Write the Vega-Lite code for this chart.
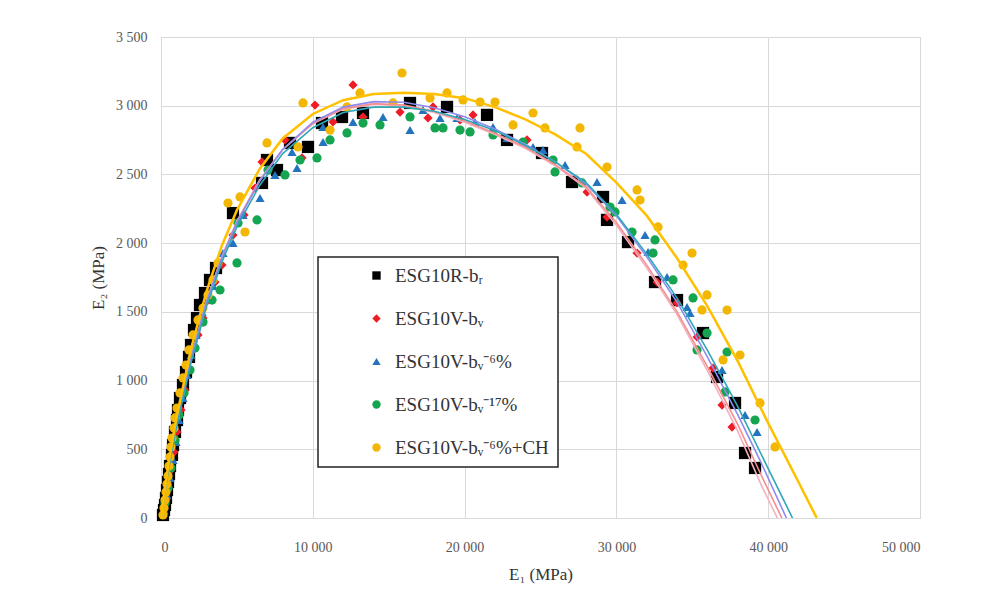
{
  "$schema": "https://vega.github.io/schema/vega-lite/v6.json",
  "width": 759,
  "height": 481,
  "autosize": {"type": "none"},
  "padding": {"left": 161, "top": 37, "right": 63, "bottom": 90},
  "background": "white",
  "config": {
    "view": {"stroke": "#d9d9d9", "strokeWidth": 1},
    "legend": {
      "orient": "none",
      "legendX": 157,
      "legendY": 220,
      "strokeColor": "#222222",
      "strokeWidth": 1.5,
      "fillColor": "white",
      "padding": 9,
      "rowPadding": 23,
      "symbolOffset": 40,
      "symbolSize": 70,
      "labelOffset": 9,
      "labelFont": "Liberation Serif",
      "labelFontSize": 19,
      "labelColor": "#333333",
      "labelLimit": 400,
      "symbolStrokeWidth": 0
    }
  },
  "datasets": {
    "pts": [
      {"s":"ESG10R-bᵣ","x":132,"y":22},{"s":"ESG10R-bᵣ","x":198,"y":58},{"s":"ESG10R-bᵣ","x":264,"y":95},{"s":"ESG10R-bᵣ","x":329,"y":146},{"s":"ESG10R-bᵣ","x":395,"y":204},{"s":"ESG10R-bᵣ","x":461,"y":262},{"s":"ESG10R-bᵣ","x":527,"y":320},{"s":"ESG10R-bᵣ","x":593,"y":378},{"s":"ESG10R-bᵣ","x":725,"y":459},{"s":"ESG10R-bᵣ","x":791,"y":531},{"s":"ESG10R-bᵣ","x":922,"y":626},{"s":"ESG10R-bᵣ","x":1054,"y":713},{"s":"ESG10R-bᵣ","x":1120,"y":786},{"s":"ESG10R-bᵣ","x":1252,"y":873},{"s":"ESG10R-bᵣ","x":1449,"y":968},{"s":"ESG10R-bᵣ","x":1647,"y":1062},{"s":"ESG10R-bᵣ","x":1845,"y":1172},{"s":"ESG10R-bᵣ","x":1976,"y":1259},{"s":"ESG10R-bᵣ","x":2174,"y":1368},{"s":"ESG10R-bᵣ","x":2372,"y":1455},{"s":"ESG10R-bᵣ","x":2569,"y":1550},{"s":"ESG10R-bᵣ","x":2899,"y":1637},{"s":"ESG10R-bᵣ","x":3228,"y":1732},{"s":"ESG10R-bᵣ","x":3623,"y":1819},{"s":"ESG10R-bᵣ","x":4743,"y":2219},{"s":"ESG10R-bᵣ","x":6654,"y":2438},{"s":"ESG10R-bᵣ","x":6983,"y":2605},{"s":"ESG10R-bᵣ","x":7642,"y":2532},{"s":"ESG10R-bᵣ","x":8499,"y":2729},{"s":"ESG10R-bᵣ","x":9684,"y":2700},{"s":"ESG10R-bᵣ","x":10607,"y":2874},{"s":"ESG10R-bᵣ","x":11924,"y":2918},{"s":"ESG10R-bᵣ","x":13307,"y":2947},{"s":"ESG10R-bᵣ","x":16404,"y":3020},{"s":"ESG10R-bᵣ","x":18842,"y":2991},{"s":"ESG10R-bᵣ","x":21477,"y":2933},{"s":"ESG10R-bᵣ","x":22794,"y":2751},{"s":"ESG10R-bᵣ","x":25100,"y":2656},{"s":"ESG10R-bᵣ","x":27077,"y":2445},{"s":"ESG10R-bᵣ","x":29119,"y":2336},{"s":"ESG10R-bᵣ","x":29382,"y":2169},{"s":"ESG10R-bᵣ","x":30765,"y":2008},{"s":"ESG10R-bᵣ","x":32544,"y":1717},{"s":"ESG10R-bᵣ","x":33994,"y":1586},{"s":"ESG10R-bᵣ","x":35707,"y":1346},{"s":"ESG10R-bᵣ","x":36629,"y":1026},{"s":"ESG10R-bᵣ","x":37815,"y":837},{"s":"ESG10R-bᵣ","x":38474,"y":473},{"s":"ESG10R-bᵣ","x":39133,"y":364},
      {"s":"ESG10V-bᵥ","x":329,"y":131},{"s":"ESG10V-bᵥ","x":461,"y":226},{"s":"ESG10V-bᵥ","x":659,"y":349},{"s":"ESG10V-bᵥ","x":856,"y":480},{"s":"ESG10V-bᵥ","x":1054,"y":626},{"s":"ESG10V-bᵥ","x":1318,"y":786},{"s":"ESG10V-bᵥ","x":1581,"y":931},{"s":"ESG10V-bᵥ","x":1845,"y":1077},{"s":"ESG10V-bᵥ","x":2108,"y":1223},{"s":"ESG10V-bᵥ","x":2438,"y":1332},{"s":"ESG10V-bᵥ","x":2767,"y":1455},{"s":"ESG10V-bᵥ","x":3096,"y":1586},{"s":"ESG10V-bᵥ","x":3558,"y":1717},{"s":"ESG10V-bᵥ","x":4019,"y":1841},{"s":"ESG10V-bᵥ","x":4743,"y":2059},{"s":"ESG10V-bᵥ","x":5468,"y":2205},{"s":"ESG10V-bᵥ","x":6193,"y":2401},{"s":"ESG10V-bᵥ","x":6654,"y":2591},{"s":"ESG10V-bᵥ","x":8169,"y":2751},{"s":"ESG10V-bᵥ","x":9289,"y":2620},{"s":"ESG10V-bᵥ","x":10146,"y":3005},{"s":"ESG10V-bᵥ","x":11331,"y":2882},{"s":"ESG10V-bᵥ","x":12649,"y":3151},{"s":"ESG10V-bᵥ","x":13308,"y":2918},{"s":"ESG10V-bᵥ","x":15745,"y":2954},{"s":"ESG10V-bᵥ","x":17590,"y":2911},{"s":"ESG10V-bᵥ","x":17919,"y":2991},{"s":"ESG10V-bᵥ","x":19698,"y":2896},{"s":"ESG10V-bᵥ","x":20555,"y":2933},{"s":"ESG10V-bᵥ","x":24112,"y":2751},{"s":"ESG10V-bᵥ","x":28065,"y":2372},{"s":"ESG10V-bᵥ","x":29382,"y":2190},{"s":"ESG10V-bᵥ","x":31359,"y":1928},{"s":"ESG10V-bᵥ","x":32676,"y":1717},{"s":"ESG10V-bᵥ","x":33994,"y":1565},{"s":"ESG10V-bᵥ","x":35311,"y":1317},{"s":"ESG10V-bᵥ","x":36365,"y":1091},{"s":"ESG10V-bᵥ","x":36958,"y":822},{"s":"ESG10V-bᵥ","x":37617,"y":662},
      {"s":"ESG10V-bᵥ⁻⁶%","x":198,"y":58},{"s":"ESG10V-bᵥ⁻⁶%","x":395,"y":167},{"s":"ESG10V-bᵥ⁻⁶%","x":593,"y":291},{"s":"ESG10V-bᵥ⁻⁶%","x":791,"y":422},{"s":"ESG10V-bᵥ⁻⁶%","x":988,"y":553},{"s":"ESG10V-bᵥ⁻⁶%","x":1186,"y":713},{"s":"ESG10V-bᵥ⁻⁶%","x":1449,"y":873},{"s":"ESG10V-bᵥ⁻⁶%","x":1713,"y":1041},{"s":"ESG10V-bᵥ⁻⁶%","x":1976,"y":1186},{"s":"ESG10V-bᵥ⁻⁶%","x":2306,"y":1332},{"s":"ESG10V-bᵥ⁻⁶%","x":2701,"y":1499},{"s":"ESG10V-bᵥ⁻⁶%","x":3030,"y":1601},{"s":"ESG10V-bᵥ⁻⁶%","x":3426,"y":1688},{"s":"ESG10V-bᵥ⁻⁶%","x":4085,"y":1928},{"s":"ESG10V-bᵥ⁻⁶%","x":4743,"y":2001},{"s":"ESG10V-bᵥ⁻⁶%","x":5402,"y":2205},{"s":"ESG10V-bᵥ⁻⁶%","x":6522,"y":2329},{"s":"ESG10V-bᵥ⁻⁶%","x":7510,"y":2496},{"s":"ESG10V-bᵥ⁻⁶%","x":8630,"y":2663},{"s":"ESG10V-bᵥ⁻⁶%","x":8960,"y":2547},{"s":"ESG10V-bᵥ⁻⁶%","x":10673,"y":2845},{"s":"ESG10V-bᵥ⁻⁶%","x":10673,"y":2736},{"s":"ESG10V-bᵥ⁻⁶%","x":12649,"y":2882},{"s":"ESG10V-bᵥ⁻⁶%","x":14625,"y":2918},{"s":"ESG10V-bᵥ⁻⁶%","x":16404,"y":2824},{"s":"ESG10V-bᵥ⁻⁶%","x":17261,"y":2969},{"s":"ESG10V-bᵥ⁻⁶%","x":18381,"y":2911},{"s":"ESG10V-bᵥ⁻⁶%","x":19500,"y":2911},{"s":"ESG10V-bᵥ⁻⁶%","x":20686,"y":2882},{"s":"ESG10V-bᵥ⁻⁶%","x":21872,"y":2845},{"s":"ESG10V-bᵥ⁻⁶%","x":22794,"y":2765},{"s":"ESG10V-bᵥ⁻⁶%","x":24507,"y":2700},{"s":"ESG10V-bᵥ⁻⁶%","x":25166,"y":2678},{"s":"ESG10V-bᵥ⁻⁶%","x":26616,"y":2569},{"s":"ESG10V-bᵥ⁻⁶%","x":28724,"y":2445},{"s":"ESG10V-bᵥ⁻⁶%","x":30371,"y":2314},{"s":"ESG10V-bᵥ⁻⁶%","x":31886,"y":2059},{"s":"ESG10V-bᵥ⁻⁶%","x":32084,"y":1936},{"s":"ESG10V-bᵥ⁻⁶%","x":33335,"y":1754},{"s":"ESG10V-bᵥ⁻⁶%","x":34653,"y":1535},{"s":"ESG10V-bᵥ⁻⁶%","x":34851,"y":1492},{"s":"ESG10V-bᵥ⁻⁶%","x":36958,"y":1077},{"s":"ESG10V-bᵥ⁻⁶%","x":38474,"y":750},{"s":"ESG10V-bᵥ⁻⁶%","x":39265,"y":626},
      {"s":"ESG10V-bᵥ⁻¹⁷%","x":264,"y":109},{"s":"ESG10V-bᵥ⁻¹⁷%","x":461,"y":218},{"s":"ESG10V-bᵥ⁻¹⁷%","x":659,"y":364},{"s":"ESG10V-bᵥ⁻¹⁷%","x":922,"y":568},{"s":"ESG10V-bᵥ⁻¹⁷%","x":1186,"y":750},{"s":"ESG10V-bᵥ⁻¹⁷%","x":1515,"y":910},{"s":"ESG10V-bᵥ⁻¹⁷%","x":1911,"y":1077},{"s":"ESG10V-bᵥ⁻¹⁷%","x":2240,"y":1237},{"s":"ESG10V-bᵥ⁻¹⁷%","x":2767,"y":1426},{"s":"ESG10V-bᵥ⁻¹⁷%","x":3360,"y":1586},{"s":"ESG10V-bᵥ⁻¹⁷%","x":3887,"y":1659},{"s":"ESG10V-bᵥ⁻¹⁷%","x":5007,"y":1856},{"s":"ESG10V-bᵥ⁻¹⁷%","x":5073,"y":2147},{"s":"ESG10V-bᵥ⁻¹⁷%","x":6325,"y":2169},{"s":"ESG10V-bᵥ⁻¹⁷%","x":7049,"y":2532},{"s":"ESG10V-bᵥ⁻¹⁷%","x":8169,"y":2496},{"s":"ESG10V-bᵥ⁻¹⁷%","x":9157,"y":2605},{"s":"ESG10V-bᵥ⁻¹⁷%","x":10277,"y":2620},{"s":"ESG10V-bᵥ⁻¹⁷%","x":11134,"y":2751},{"s":"ESG10V-bᵥ⁻¹⁷%","x":12254,"y":2802},{"s":"ESG10V-bᵥ⁻¹⁷%","x":13308,"y":2874},{"s":"ESG10V-bᵥ⁻¹⁷%","x":14428,"y":2860},{"s":"ESG10V-bᵥ⁻¹⁷%","x":16404,"y":2918},{"s":"ESG10V-bᵥ⁻¹⁷%","x":18051,"y":2838},{"s":"ESG10V-bᵥ⁻¹⁷%","x":18578,"y":2838},{"s":"ESG10V-bᵥ⁻¹⁷%","x":19698,"y":2823},{"s":"ESG10V-bᵥ⁻¹⁷%","x":20357,"y":2809},{"s":"ESG10V-bᵥ⁻¹⁷%","x":21872,"y":2787},{"s":"ESG10V-bᵥ⁻¹⁷%","x":23849,"y":2736},{"s":"ESG10V-bᵥ⁻¹⁷%","x":25825,"y":2605},{"s":"ESG10V-bᵥ⁻¹⁷%","x":25957,"y":2518},{"s":"ESG10V-bᵥ⁻¹⁷%","x":27735,"y":2438},{"s":"ESG10V-bᵥ⁻¹⁷%","x":29580,"y":2263},{"s":"ESG10V-bᵥ⁻¹⁷%","x":29910,"y":2227},{"s":"ESG10V-bᵥ⁻¹⁷%","x":31030,"y":2081},{"s":"ESG10V-bᵥ⁻¹⁷%","x":32544,"y":2023},{"s":"ESG10V-bᵥ⁻¹⁷%","x":32413,"y":1928},{"s":"ESG10V-bᵥ⁻¹⁷%","x":33730,"y":1732},{"s":"ESG10V-bᵥ⁻¹⁷%","x":35048,"y":1601},{"s":"ESG10V-bᵥ⁻¹⁷%","x":35970,"y":1346},{"s":"ESG10V-bᵥ⁻¹⁷%","x":35311,"y":1223},{"s":"ESG10V-bᵥ⁻¹⁷%","x":37289,"y":1208},{"s":"ESG10V-bᵥ⁻¹⁷%","x":37157,"y":917},{"s":"ESG10V-bᵥ⁻¹⁷%","x":39133,"y":713},
      {"s":"ESG10V-bᵥ⁻⁶%+CH","x":132,"y":22},{"s":"ESG10V-bᵥ⁻⁶%+CH","x":198,"y":73},{"s":"ESG10V-bᵥ⁻⁶%+CH","x":264,"y":131},{"s":"ESG10V-bᵥ⁻⁶%+CH","x":329,"y":189},{"s":"ESG10V-bᵥ⁻⁶%+CH","x":395,"y":247},{"s":"ESG10V-bᵥ⁻⁶%+CH","x":461,"y":306},{"s":"ESG10V-bᵥ⁻⁶%+CH","x":527,"y":378},{"s":"ESG10V-bᵥ⁻⁶%+CH","x":593,"y":444},{"s":"ESG10V-bᵥ⁻⁶%+CH","x":659,"y":517},{"s":"ESG10V-bᵥ⁻⁶%+CH","x":725,"y":582},{"s":"ESG10V-bᵥ⁻⁶%+CH","x":856,"y":655},{"s":"ESG10V-bᵥ⁻⁶%+CH","x":922,"y":728},{"s":"ESG10V-bᵥ⁻⁶%+CH","x":1054,"y":800},{"s":"ESG10V-bᵥ⁻⁶%+CH","x":1252,"y":910},{"s":"ESG10V-bᵥ⁻⁶%+CH","x":1449,"y":1019},{"s":"ESG10V-bᵥ⁻⁶%+CH","x":1647,"y":1113},{"s":"ESG10V-bᵥ⁻⁶%+CH","x":1845,"y":1223},{"s":"ESG10V-bᵥ⁻⁶%+CH","x":2108,"y":1332},{"s":"ESG10V-bᵥ⁻⁶%+CH","x":2438,"y":1441},{"s":"ESG10V-bᵥ⁻⁶%+CH","x":2767,"y":1528},{"s":"ESG10V-bᵥ⁻⁶%+CH","x":3096,"y":1623},{"s":"ESG10V-bᵥ⁻⁶%+CH","x":3426,"y":1732},{"s":"ESG10V-bᵥ⁻⁶%+CH","x":3755,"y":1856},{"s":"ESG10V-bᵥ⁻⁶%+CH","x":4414,"y":2292},{"s":"ESG10V-bᵥ⁻⁶%+CH","x":5205,"y":2336},{"s":"ESG10V-bᵥ⁻⁶%+CH","x":5534,"y":2081},{"s":"ESG10V-bᵥ⁻⁶%+CH","x":6983,"y":2729},{"s":"ESG10V-bᵥ⁻⁶%+CH","x":9026,"y":2700},{"s":"ESG10V-bᵥ⁻⁶%+CH","x":9355,"y":3020},{"s":"ESG10V-bᵥ⁻⁶%+CH","x":11134,"y":2823},{"s":"ESG10V-bᵥ⁻⁶%+CH","x":12254,"y":2991},{"s":"ESG10V-bᵥ⁻⁶%+CH","x":13110,"y":3093},{"s":"ESG10V-bᵥ⁻⁶%+CH","x":15284,"y":3020},{"s":"ESG10V-bᵥ⁻⁶%+CH","x":15877,"y":3238},{"s":"ESG10V-bᵥ⁻⁶%+CH","x":17722,"y":3056},{"s":"ESG10V-bᵥ⁻⁶%+CH","x":18842,"y":3093},{"s":"ESG10V-bᵥ⁻⁶%+CH","x":19896,"y":3042},{"s":"ESG10V-bᵥ⁻⁶%+CH","x":21016,"y":3027},{"s":"ESG10V-bᵥ⁻⁶%+CH","x":22004,"y":3027},{"s":"ESG10V-bᵥ⁻⁶%+CH","x":23190,"y":2860},{"s":"ESG10V-bᵥ⁻⁶%+CH","x":24507,"y":2947},{"s":"ESG10V-bᵥ⁻⁶%+CH","x":25298,"y":2838},{"s":"ESG10V-bᵥ⁻⁶%+CH","x":27406,"y":2700},{"s":"ESG10V-bᵥ⁻⁶%+CH","x":27604,"y":2838},{"s":"ESG10V-bᵥ⁻⁶%+CH","x":29382,"y":2554},{"s":"ESG10V-bᵥ⁻⁶%+CH","x":31359,"y":2387},{"s":"ESG10V-bᵥ⁻⁶%+CH","x":31557,"y":2314},{"s":"ESG10V-bᵥ⁻⁶%+CH","x":32742,"y":2118},{"s":"ESG10V-bᵥ⁻⁶%+CH","x":34390,"y":1841},{"s":"ESG10V-bᵥ⁻⁶%+CH","x":34982,"y":1928},{"s":"ESG10V-bᵥ⁻⁶%+CH","x":35641,"y":1514},{"s":"ESG10V-bᵥ⁻⁶%+CH","x":35970,"y":1623},{"s":"ESG10V-bᵥ⁻⁶%+CH","x":37289,"y":1513},{"s":"ESG10V-bᵥ⁻⁶%+CH","x":37025,"y":1150},{"s":"ESG10V-bᵥ⁻⁶%+CH","x":38144,"y":1186},{"s":"ESG10V-bᵥ⁻⁶%+CH","x":39462,"y":837},{"s":"ESG10V-bᵥ⁻⁶%+CH","x":40451,"y":517}
    ],
    "crv": [
      {"c":"k","x":0,"y":0},{"c":"k","x":500,"y":380},{"c":"k","x":1000,"y":680},{"c":"k","x":2000,"y":1180},{"c":"k","x":3000,"y":1580},{"c":"k","x":4000,"y":1900},{"c":"k","x":5000,"y":2160},{"c":"k","x":6500,"y":2460},{"c":"k","x":8000,"y":2680},{"c":"k","x":10000,"y":2870},{"c":"k","x":12000,"y":2975},{"c":"k","x":14000,"y":3010},{"c":"k","x":16000,"y":3000},{"c":"k","x":18000,"y":2950},{"c":"k","x":20000,"y":2880},{"c":"k","x":22000,"y":2790},{"c":"k","x":24000,"y":2690},{"c":"k","x":26000,"y":2560},{"c":"k","x":28000,"y":2400},{"c":"k","x":30000,"y":2130},{"c":"k","x":32000,"y":1820},{"c":"k","x":34000,"y":1480},{"c":"k","x":36000,"y":1070},{"c":"k","x":38000,"y":630},{"c":"k","x":39500,"y":250},{"c":"k","x":40600,"y":0},
      {"c":"r","x":0,"y":0},{"c":"r","x":500,"y":375},{"c":"r","x":1000,"y":675},{"c":"r","x":2000,"y":1175},{"c":"r","x":3000,"y":1575},{"c":"r","x":4000,"y":1895},{"c":"r","x":5000,"y":2155},{"c":"r","x":6500,"y":2455},{"c":"r","x":8000,"y":2680},{"c":"r","x":10000,"y":2870},{"c":"r","x":12000,"y":2980},{"c":"r","x":14000,"y":3015},{"c":"r","x":16000,"y":3005},{"c":"r","x":18000,"y":2960},{"c":"r","x":20000,"y":2890},{"c":"r","x":22000,"y":2800},{"c":"r","x":24000,"y":2700},{"c":"r","x":26000,"y":2570},{"c":"r","x":28000,"y":2410},{"c":"r","x":30000,"y":2150},{"c":"r","x":32000,"y":1840},{"c":"r","x":34000,"y":1500},{"c":"r","x":36000,"y":1100},{"c":"r","x":38000,"y":680},{"c":"r","x":39500,"y":320},{"c":"r","x":40900,"y":0},
      {"c":"b","x":0,"y":0},{"c":"b","x":500,"y":370},{"c":"b","x":1000,"y":670},{"c":"b","x":2000,"y":1170},{"c":"b","x":3000,"y":1570},{"c":"b","x":4000,"y":1890},{"c":"b","x":5000,"y":2150},{"c":"b","x":6500,"y":2450},{"c":"b","x":8000,"y":2680},{"c":"b","x":10000,"y":2880},{"c":"b","x":12000,"y":2990},{"c":"b","x":14000,"y":3030},{"c":"b","x":16000,"y":3025},{"c":"b","x":18000,"y":2985},{"c":"b","x":20000,"y":2920},{"c":"b","x":22000,"y":2830},{"c":"b","x":24000,"y":2720},{"c":"b","x":26000,"y":2590},{"c":"b","x":28000,"y":2430},{"c":"b","x":30000,"y":2200},{"c":"b","x":32000,"y":1900},{"c":"b","x":34000,"y":1570},{"c":"b","x":36000,"y":1170},{"c":"b","x":38000,"y":750},{"c":"b","x":39500,"y":410},{"c":"b","x":41200,"y":0},
      {"c":"g","x":0,"y":0},{"c":"g","x":500,"y":360},{"c":"g","x":1000,"y":650},{"c":"g","x":2000,"y":1140},{"c":"g","x":3000,"y":1540},{"c":"g","x":4000,"y":1860},{"c":"g","x":5000,"y":2120},{"c":"g","x":6500,"y":2420},{"c":"g","x":8000,"y":2650},{"c":"g","x":10000,"y":2840},{"c":"g","x":12000,"y":2950},{"c":"g","x":14000,"y":2990},{"c":"g","x":16000,"y":2990},{"c":"g","x":18000,"y":2960},{"c":"g","x":20000,"y":2900},{"c":"g","x":22000,"y":2820},{"c":"g","x":24000,"y":2710},{"c":"g","x":26000,"y":2590},{"c":"g","x":28000,"y":2440},{"c":"g","x":30000,"y":2210},{"c":"g","x":32000,"y":1920},{"c":"g","x":34000,"y":1600},{"c":"g","x":36000,"y":1220},{"c":"g","x":38000,"y":810},{"c":"g","x":40000,"y":360},{"c":"g","x":41600,"y":0}
    ],
    "ycrv": [
      {"x":0,"y":0},{"x":500,"y":400},{"x":1000,"y":720},{"x":2000,"y":1240},{"x":3000,"y":1650},{"x":4000,"y":1980},{"x":5000,"y":2240},{"x":6500,"y":2540},{"x":8000,"y":2760},{"x":10000,"y":2940},{"x":12000,"y":3040},{"x":14000,"y":3085},{"x":16000,"y":3095},{"x":18000,"y":3085},{"x":20000,"y":3055},{"x":22000,"y":2990},{"x":24000,"y":2900},{"x":26000,"y":2790},{"x":28000,"y":2650},{"x":30000,"y":2440},{"x":32000,"y":2200},{"x":34000,"y":1890},{"x":36000,"y":1540},{"x":38000,"y":1140},{"x":40000,"y":690},{"x":42000,"y":260},{"x":43200,"y":0}
    ]
  },
  "encoding": {
    "x": {
      "field": "x", "type": "quantitative",
      "scale": {"domain": [0, 50000], "nice": false},
      "axis": {
        "values": [0, 10000, 20000, 30000, 40000, 50000],
        "labelExpr": "replace(format(datum.value, ',d'), ',', ' ')",
        "title": "E₁ (MPa)",
        "grid": true, "gridColor": "#d9d9d9",
        "domainColor": "#d9d9d9", "ticks": false,
        "labelPadding": 22, "labelFont": "Liberation Sans Narrow", "labelFontSize": 14, "labelColor": "#595959",
        "titleFont": "Liberation Serif", "titleFontSize": 17, "titleFontWeight": "normal", "titleColor": "#333333", "titlePadding": 12
      }
    },
    "y": {
      "field": "y", "type": "quantitative",
      "scale": {"domain": [0, 3500], "nice": false},
      "axis": {
        "values": [0, 500, 1000, 1500, 2000, 2500, 3000, 3500],
        "labelExpr": "replace(format(datum.value, ',d'), ',', ' ')",
        "title": "E₂ (MPa)",
        "grid": true, "gridColor": "#d9d9d9",
        "domainColor": "#d9d9d9", "ticks": false,
        "labelPadding": 14, "labelFont": "Liberation Sans Narrow", "labelFontSize": 14, "labelColor": "#595959",
        "titleFont": "Liberation Serif", "titleFontSize": 17, "titleFontWeight": "normal", "titleColor": "#333333", "titlePadding": 8
      }
    }
  },
  "layer": [
    {
      "data": {"name": "pts"},
      "transform": [{"filter": "datum.s == 'ESG10R-bᵣ'"}],
      "mark": {"type": "point", "filled": true, "opacity": 1, "strokeWidth": 0, "size": 150},
      "encoding": {
        "color": {"field": "s", "type": "nominal", "title": null, "sort": null,
          "scale": {"domain": ["ESG10R-bᵣ","ESG10V-bᵥ","ESG10V-bᵥ⁻⁶%","ESG10V-bᵥ⁻¹⁷%","ESG10V-bᵥ⁻⁶%+CH"], "range": ["#000000","#ee1c25","#2373be","#15a550","#f2b705"]}},
        "shape": {"field": "s", "type": "nominal", "title": null, "sort": null,
          "scale": {"domain": ["ESG10R-bᵣ","ESG10V-bᵥ","ESG10V-bᵥ⁻⁶%","ESG10V-bᵥ⁻¹⁷%","ESG10V-bᵥ⁻⁶%+CH"], "range": ["square","diamond","triangle-up","circle","circle"]}}
      }
    },
    {
      "data": {"name": "pts"},
      "transform": [{"filter": "datum.s != 'ESG10R-bᵣ'"}],
      "mark": {"type": "point", "filled": true, "opacity": 1, "strokeWidth": 0, "size": 85},
      "encoding": {
        "color": {"field": "s", "type": "nominal", "title": null, "sort": null},
        "shape": {"field": "s", "type": "nominal", "title": null, "sort": null}
      }
    },
    {
      "data": {"name": "crv"},
      "mark": {"type": "line", "strokeWidth": 1.6, "clip": true},
      "encoding": {
        "detail": {"field": "c", "type": "nominal"},
        "stroke": {"field": "c", "type": "nominal", "legend": null,
          "scale": {"domain": ["k","r","b","g"], "range": ["#f4b0bd","#f58f8f","#8c8cf0","#2ea7b8"]}}
      }
    },
    {
      "data": {"name": "ycrv"},
      "mark": {"type": "line", "strokeWidth": 2.5, "color": "#ffc000", "clip": true},
      "encoding": {}
    }
  ],
  "resolve": {"scale": {"stroke": "independent"}}
}
